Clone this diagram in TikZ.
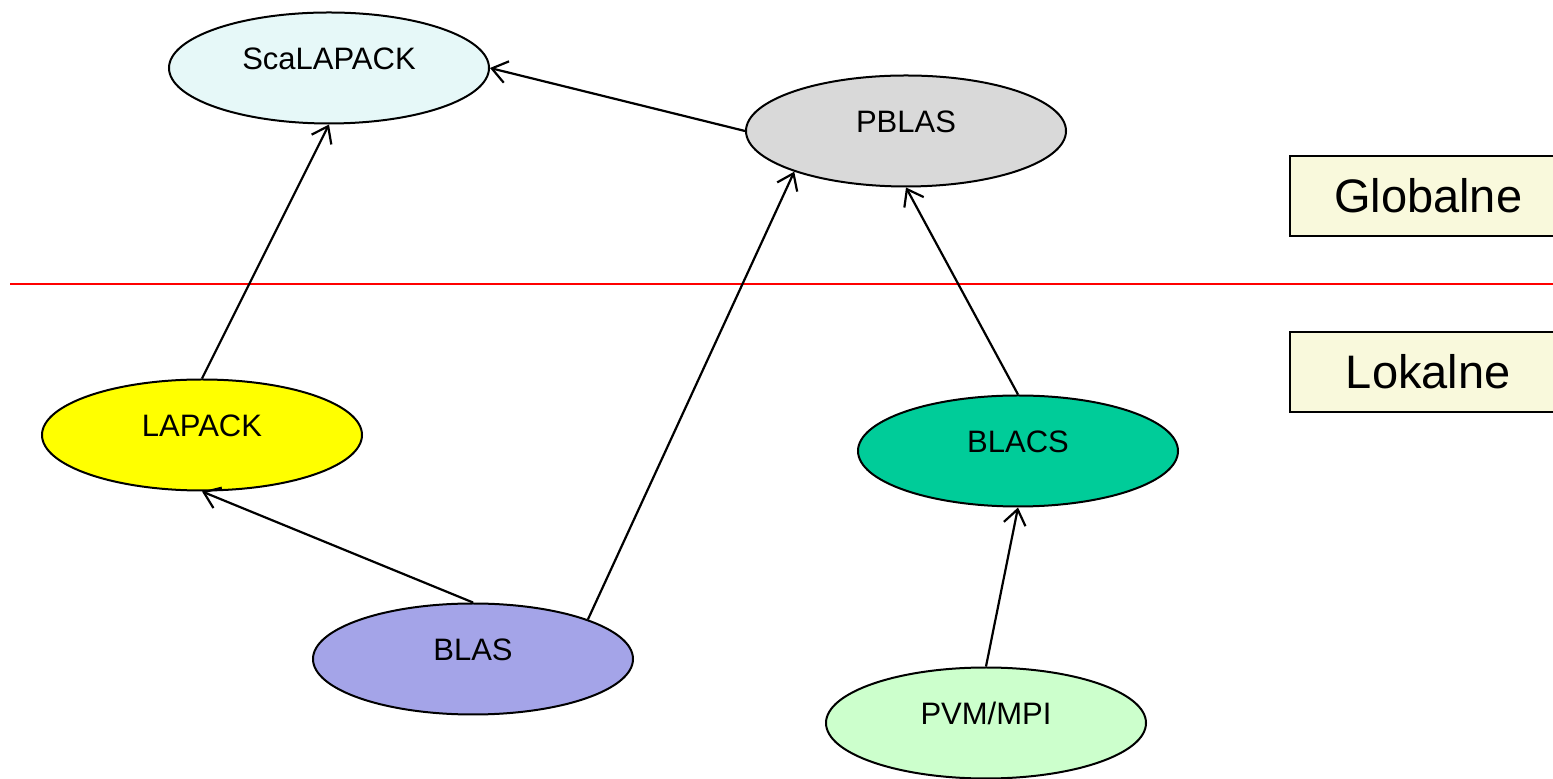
\documentclass[tikz,border=0pt]{standalone}
\usepackage{fontspec}
\setmainfont{Liberation Sans}
\usetikzlibrary{shapes.geometric,arrows.meta}
\definecolor{cScal}{RGB}{230,248,248}
\definecolor{cPblas}{RGB}{217,217,217}
\definecolor{cLapack}{RGB}{255,255,0}
\definecolor{cBlacs}{RGB}{0,204,153}
\definecolor{cBlas}{RGB}{164,164,232}
\definecolor{cPvm}{RGB}{204,255,204}
\definecolor{cBox}{RGB}{249,249,220}
\tikzset{
  ell/.style={ellipse, draw=black, line width=2bp, minimum width=320bp, minimum height=111bp, inner sep=0pt,
     font=\fontsize{31bp}{36bp}\selectfont},
  lvl/.style={draw=black, line width=2.4bp, fill=cBox, anchor=west, minimum width=276bp, minimum height=80bp,
     inner sep=0pt, font=\fontsize{47bp}{56bp}\selectfont},
  conn/.style={line width=2.2bp, -{Straight Barb[length=15bp,width=22bp]}},
}
\newcommand{\up}[1]{\raisebox{19bp}{#1}}
\begin{document}
\begin{tikzpicture}[x=1bp,y=1bp]
\clip (0,0) rectangle (1553,778);
\fill[white] (0,0) rectangle (1553,778);
% separator
\draw[red, line width=2.8bp] (10,494) -- (1553,494);
% level boxes
\node[lvl] (glob) at (1289,582) {Globalne};
\node[lvl] (lok) at (1289,406) {Lokalne};
% nodes
\node[ell, fill=cScal] (scal) at (329,710) {\up{ScaLAPACK}};
\node[ell, fill=cPblas] (pblas) at (906,647) {\up{PBLAS}};
\node[ell, fill=cLapack] (lapack) at (202,343) {\up{LAPACK}};
\node[ell, fill=cBlacs] (blacs) at (1018,327) {\up{BLACS}};
\node[ell, fill=cBlas] (blas) at (473,119) {\up{BLAS}};
\node[ell, fill=cPvm] (pvm) at (986,55) {\up{PVM/MPI}};
% connectors
\draw[conn] (lapack.north) -- (scal.south);
\draw[conn] (pblas.west) -- (scal.east);
\draw[conn] (blas.north) -- (lapack.south);
\draw[conn] (blas.19) -- (pblas.200);
\draw[conn] (blacs.north) -- (pblas.south);
\draw[conn] (pvm.north) -- (blacs.south);
\end{tikzpicture}
\end{document}
